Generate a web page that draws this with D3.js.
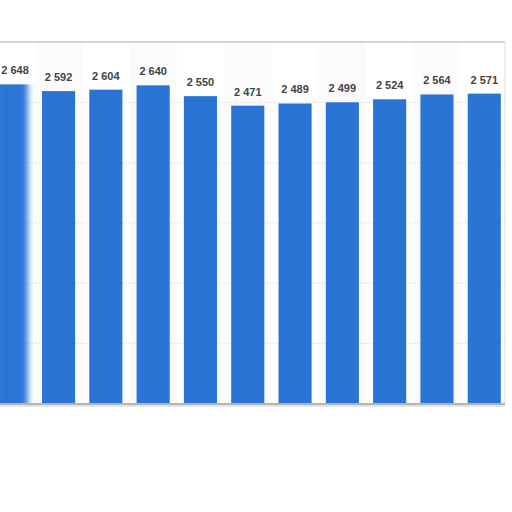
<!DOCTYPE html>
<html>
<head>
<meta charset="utf-8">
<script src="https://cdn.jsdelivr.net/npm/d3@7"></script>
<style>
  html, body { margin: 0; padding: 0; background: #fff; }
  svg { display: block; }
</style>
</head>
<body>
<div id="chart"></div>
<script>
// DATA
const categories = ["2010", "2011", "2012", "2013", "2014", "2015", "2016", "2017", "2018", "2019", "2020"];
const values = [2648, 2592, 2604, 2640, 2550, 2471, 2489, 2499, 2524, 2564, 2571];
const yTicks = [0, 500, 1000, 1500, 2000, 2500, 3000];

const W = 512, H = 512;
const frame = { top: 42, bottom: 403, right: 505 };

const svg = d3.select("#chart").append("svg")
  .attr("width", W).attr("height", H);

svg.append("rect").attr("width", W).attr("height", H).attr("fill", "#fff");

// soft horizontal smear seen on the leftmost bar
const defs = svg.append("defs");
defs.append("filter").attr("id", "smear")
  .attr("x", "-30%").attr("width", "160%")
  .append("feGaussianBlur").attr("stdDeviation", "3 0");

const x = d3.scaleBand()
  .domain(categories)
  .range([-19.5, 515])
  .padding(0.3);

const y = d3.scaleLinear()
  .domain([0, 3000])
  .range([frame.bottom, frame.top]);

const fmt = d3.formatLocale({ decimal: ",", thousands: " ", grouping: [3], currency: ["", ""] }).format(",d");

// alternate column shading (very faint)
svg.append("g").selectAll("rect")
  .data(categories.filter((d, i) => i % 2 === 1))
  .join("rect")
  .attr("x", d => x(d) - x.step() * x.paddingInner() / 2)
  .attr("y", frame.top)
  .attr("width", x.step())
  .attr("height", frame.bottom - frame.top)
  .attr("fill", "#fbfbfb");

// GRID
svg.append("g").selectAll("line")
  .data(yTicks.filter(t => t > 0 && t < 3000))
  .join("line")
  .attr("x1", 0).attr("x2", frame.right)
  .attr("y1", d => y(d) + 0.5).attr("y2", d => y(d) + 0.5)
  .attr("stroke", "#cfcfcf")
  .attr("stroke-dasharray", "1,2");

// frame lines
svg.append("line")
  .attr("x1", 0).attr("x2", frame.right)
  .attr("y1", frame.top).attr("y2", frame.top)
  .attr("stroke", "#c8c8c8").attr("stroke-width", 1.5);
svg.append("line")
  .attr("x1", frame.right).attr("x2", frame.right)
  .attr("y1", frame.top).attr("y2", frame.bottom)
  .attr("stroke", "#dcdcdc").attr("stroke-width", 1);

// BARS
svg.append("g").selectAll("rect")
  .data(values)
  .join("rect")
  .attr("x", (d, i) => x(categories[i]))
  .attr("y", d => y(d))
  .attr("width", x.bandwidth())
  .attr("height", d => y(0) - y(d))
  .attr("fill", "#2a74d6")
  .attr("filter", (d, i) => i === 0 ? "url(#smear)" : null);

// baseline
svg.append("line")
  .attr("x1", 0).attr("x2", frame.right)
  .attr("y1", frame.bottom + 1).attr("y2", frame.bottom + 1)
  .attr("stroke", "#9a9a9a").attr("stroke-width", 1.5);
svg.append("line")
  .attr("x1", 0).attr("x2", frame.right)
  .attr("y1", frame.bottom + 3).attr("y2", frame.bottom + 3)
  .attr("stroke", "#e4e4e4").attr("stroke-width", 2);

// LABELS
svg.append("g").selectAll("text")
  .data(values)
  .join("text")
  .attr("x", (d, i) => Math.max(x(categories[i]) + x.bandwidth() / 2, 15))
  .attr("y", d => y(d) - 10)
  .attr("text-anchor", "middle")
  .attr("font-family", "Liberation Sans, Arial, sans-serif")
  .attr("font-weight", "bold")
  .attr("font-size", "11px")
  .attr("fill", "#444")
  .text(d => fmt(d));
</script>
</body>
</html>
